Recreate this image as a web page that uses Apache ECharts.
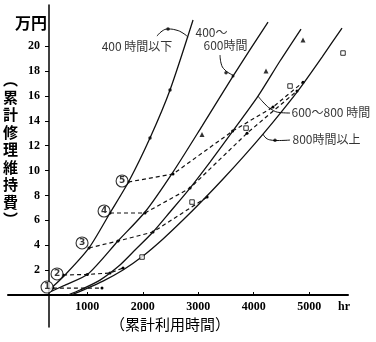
<!DOCTYPE html>
<html><head><meta charset="utf-8">
<script src="https://cdn.jsdelivr.net/npm/echarts@6/dist/echarts.min.js"></script>
<style>html,body{margin:0;padding:0;background:#fff}#c{width:376px;height:342px}</style>
</head><body><div id="c"></div>
<script>
// ---- data (x: cumulative hours, y: 万円) ----
const xTickValues = [1000, 2000, 3000, 4000, 5000];
const yTickValues = [2, 4, 6, 8, 10, 12, 14, 16, 18, 20];
const curveNames = ['400時間以下', '400〜600時間', '600〜800時間', '800時間以上'];
const curveBelow400 = [[291,0.32],[598,1.61],[1030,3.78],[1409,6.59],[1752,9.16],[2130,12.61],[2491,16.47],[2906,22.09]];
const curve400to600 = [[327,0.24],[598,0.80],[1012,1.69],[1553,4.34],[2040,6.67],[2545,9.88],[3068,13.57],[3627,17.59],[4258,21.93]];
const curve600to800 = [[652,0],[868,0.40],[1229,1.20],[1589,2.41],[1860,3.61],[2184,5.06],[2491,6.67],[2852,8.59],[3212,10.68],[3609,13.09],[4078,15.98],[4474,18.80],[4853,21.37]];
const curveOver800 = [[724,0.04],[922,0.40],[1283,1.12],[1644,2.01],[2004,3.13],[2365,4.50],[2725,6.02],[3086,7.63],[3447,9.32],[3807,11.08],[4168,12.93],[4510,14.78],[4835,16.63],[5232,19.12],[5592,21.45]];

const ageNames = ['1', '2', '3', '4', '5'];
const agePoints = [[274,0.64],[454,1.69],[905,4.18],[1302,6.75],[1627,9.16]];
const ageLine1 = [[380,0.56],[1265,0.56]];
const ageLine2 = [[563,1.61],[1000,1.65],[1409,1.77],[1644,2.17]];
const ageLine3 = [[1030,3.78],[1553,4.34],[2184,5.06],[3160,7.87]];
const ageLine4 = [[1409,6.59],[2040,6.59],[2852,8.59],[3880,13.0],[4781,16.4]];
const ageLine5 = [[1737,9.08],[2545,9.72],[3620,13.17],[4348,15.1],[4889,17.1]];

const dotsBelow400 = [[2130,12.61],[2491,16.47]];
const marks400to600 = [[3627,17.59]];
const triangles600to800 = [[3068,12.9],[4222,17.99],[4889,20.48]];
const squaresOver800 = [[1987,3.05],[2888,7.47],[3862,13.41],[4655,16.79],[5610,19.44]];

const leaderBelow400 = [[2257,20.80],[2347,21.20],[2455,21.37],[2599,21.29],[2725,21.04],[2816,20.72]];
const leader400to600 = [[3393,19.28],[3411,18.63],[3483,18.07],[3627,17.67]];
const leader600to800 = [[4078,15.98],[4186,15.42],[4312,14.94],[4474,14.66],[4655,14.62]];
const leaderOver800 = [[4168,12.93],[4222,12.61],[4312,12.45],[4420,12.41],[4655,12.45]];
const leaderDots = [[2455,21.37],[3501,17.85],[4384,12.43]];

const centerLabelTexts = ['400 時間以下'];
const centerLabelPoints = [[1896,20.0]];
const leftLabelTexts = ['400〜', '600時間', '600〜800 時間', '800時間以上'];
const leftLabelPoints = [[2942,21.12],[3086,20.08],[4673,14.70],[4691,12.53]];

// ---- chart ----
const JP = 'Noto Sans CJK JP';
const chart = echarts.init(document.getElementById('c'), null, {renderer: 'canvas'});

function curve(name, data) {
  return {name, type: 'line', data, smooth: 0.25, symbol: 'none',
    lineStyle: {color: '#111', width: 1.3}, z: 3, silent: true};
}
function dashed(data) {
  return {type: 'line', data, smooth: false, symbol: 'circle', symbolSize: 3, showSymbol: true,
    itemStyle: {color: '#000'}, lineStyle: {type: [4, 3], width: 1.2, color: '#111'}, z: 2, silent: true};
}
function leader(data) {
  return {type: 'line', data, smooth: true, symbol: 'none', lineStyle: {color: '#111', width: 1}, z: 3, silent: true};
}
function marks(data, symbol, size, filled) {
  return {type: 'scatter', data, symbol, symbolSize: size,
    itemStyle: filled ? {color: '#000'} : {color: '#fff', borderColor: '#000', borderWidth: 1}, z: 4, silent: true};
}

const series = [
  curve(curveNames[0], curveBelow400),
  curve(curveNames[1], curve400to600),
  curve(curveNames[2], curve600to800),
  curve(curveNames[3], curveOver800),
  dashed(ageLine1), dashed(ageLine2), dashed(ageLine3), dashed(ageLine4), dashed(ageLine5),
  leader(leaderBelow400), leader(leader400to600), leader(leader600to800), leader(leaderOver800),
  marks(leaderDots, 'circle', 3.5, true),
  marks(dotsBelow400, 'circle', 3.5, true),
  marks(marks400to600, 'circle', 3, true),
  marks(triangles600to800, 'triangle', 5, true),
  marks(squaresOver800, 'rect', 4.5, false),
  {type: 'scatter', data: agePoints, symbol: 'circle', symbolSize: 12, z: 6, silent: true,
    itemStyle: {color: '#fff', borderColor: '#000', borderWidth: 1.1},
    label: {show: true, position: 'inside', formatter: p => ageNames[p.dataIndex],
      fontSize: 9, fontWeight: 'bold', color: '#000', fontFamily: 'DejaVu Sans'}},
  {type: 'scatter', data: centerLabelPoints, symbolSize: 1, itemStyle: {color: 'rgba(0,0,0,0)'}, z: 6, silent: true,
    label: {show: true, position: 'inside', formatter: p => centerLabelTexts[p.dataIndex],
      fontSize: 12, color: '#000', fontFamily: JP}},
  {type: 'scatter', data: leftLabelPoints, symbolSize: 1, itemStyle: {color: 'rgba(0,0,0,0)'}, z: 6, silent: true,
    label: {show: true, position: 'right', distance: 0, formatter: p => leftLabelTexts[p.dataIndex],
      fontSize: 12, color: '#000', fontFamily: JP}}
];

chart.setOption({
  animation: false,
  backgroundColor: '#fff',
  title: [
    {text: '︵\n累\n計\n修\n理\n維\n持\n費\n︶', left: 3, top: 71, padding: 0,
      textStyle: {fontSize: 15, fontWeight: 'bold', lineHeight: 17.5, fontFamily: JP, color: '#000'}},
    {text: '（累計利用時間）', left: 110, top: 316, padding: 0,
      textStyle: {fontSize: 15, fontWeight: 'normal', lineHeight: 16, fontFamily: JP, color: '#000'}}
  ],
  grid: {left: 8, right: 28, top: 5, bottom: 15},
  xAxis: {
    type: 'value', min: -430, max: 5700, position: 'bottom', offset: -32,
    axisLine: {onZero: false, lineStyle: {color: '#000', width: 2}},
    axisTick: {show: true, inside: true, length: 3, customValues: xTickValues, lineStyle: {color: '#000'}},
    axisLabel: {customValues: xTickValues, formatter: v => String(v), margin: 6, fontSize: 12, fontWeight: 'bold',
      fontFamily: 'Liberation Serif', color: '#000'},
    splitLine: {show: false},
    name: 'hr', nameLocation: 'end', nameGap: -10,
    nameTextStyle: {fontSize: 12, fontWeight: 'bold', fontFamily: 'Liberation Serif', color: '#000',
      align: 'left', verticalAlign: 'top', padding: [6, 0, 0, 0]}
  },
  yAxis: {
    type: 'value', min: -2.57, max: 23.3, offset: -41,
    axisLine: {show: true, onZero: false, lineStyle: {color: '#000', width: 1.5}},
    axisTick: {show: true, length: 4, customValues: yTickValues, lineStyle: {color: '#000'}},
    axisLabel: {customValues: yTickValues, formatter: v => String(v), margin: 9, fontSize: 12, fontWeight: 'bold',
      fontFamily: 'Liberation Serif', color: '#000'},
    splitLine: {show: false},
    name: '万円', nameLocation: 'end', nameGap: -18,
    nameTextStyle: {fontSize: 16, fontWeight: 'bold', fontFamily: JP, color: '#000',
      align: 'right', verticalAlign: 'middle', padding: [0, 2, 0, 0]}
  },
  series
});
</script>
</body></html>
